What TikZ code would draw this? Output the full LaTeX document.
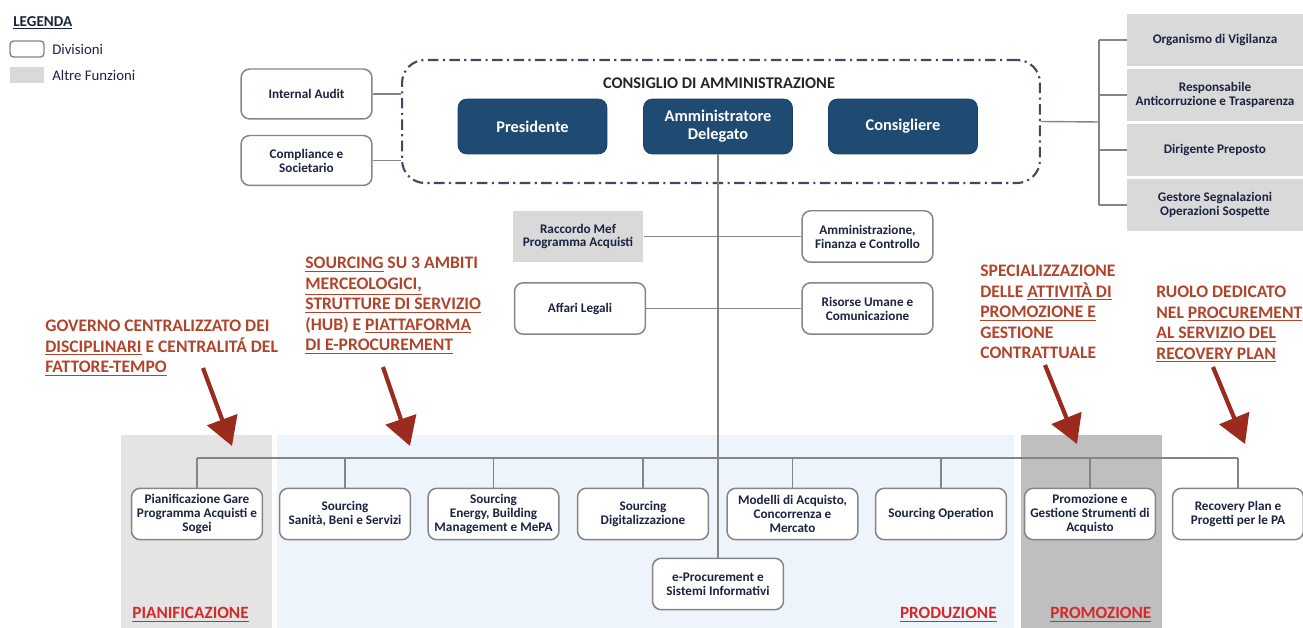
\documentclass[tikz,border=0pt]{standalone}
\usepackage{fontspec}
\setmainfont{Carlito}
\usetikzlibrary{arrows.meta,positioning}

\definecolor{linegray}{HTML}{858585}
\definecolor{boxtext}{HTML}{1C2340}
\definecolor{altregray}{HTML}{D9D9D9}
\definecolor{cdablue}{HTML}{1F4A72}
\definecolor{cdadash}{HTML}{3B4A66}
\definecolor{notared}{HTML}{B0452C}
\definecolor{arrowred}{HTML}{9B2B1E}
\definecolor{areared}{HTML}{D42A2A}
\definecolor{pianbg}{HTML}{E4E4E4}
\definecolor{prodbg}{HTML}{EEF4FB}
\definecolor{promobg}{HTML}{BFBFBF}

\begin{document}
\begin{tikzpicture}[x=0.02cm,y=-0.02cm,
	divbox/.style={draw=linegray,line width=0.85pt,rounded corners=5pt,fill=white,text=boxtext,align=center,
		font=\bfseries\fontsize{7.5}{7.9}\selectfont,minimum width=2.62cm,minimum height=1.03cm,inner sep=1pt},
	altrebox/.style={fill=altregray,text=boxtext,align=center,
		font=\bfseries\fontsize{7.5}{7.9}\selectfont,minimum width=2.62cm,minimum height=1.03cm,inner sep=1pt},
	cdabox/.style={fill=cdablue,draw=cdablue!85!black,rounded corners=5pt,text=white,align=center,
		font=\bfseries\fontsize{9.3}{10.2}\selectfont,minimum width=2.98cm,minimum height=1.1cm},
	nota/.style={anchor=north west,align=left,inner sep=0pt,text=notared,font=\bfseries\fontsize{10}{11.6}\selectfont},
	area/.style={inner sep=0pt,text=areared,font=\bfseries\fontsize{9.8}{10}\selectfont},
	freccia/.style={draw=arrowred,line width=2.4pt,-{Triangle[length=16pt,width=18pt]}},
	link/.style={draw=linegray,line width=0.8pt}
]
	\useasboundingbox (0,0) rectangle (1303,628);

	% fasce in basso
	\fill[pianbg] (121,435) rectangle (272,628);
	\fill[prodbg] (277,435) rectangle (1014,628);
	\fill[promobg] (1021,435) rectangle (1162,628);

	% legenda
	\node[anchor=west,inner sep=0pt,text=boxtext,font=\bfseries\fontsize{8.6}{9}\selectfont] (legenda) at (13,23) {\underline{LEGENDA}};
	\node[draw=linegray,line width=0.8pt,rounded corners=2pt,minimum width=0.68cm,minimum height=0.32cm,inner sep=0pt] (legdiv) at (27,49) {};
	\node[fill=altregray,minimum width=0.68cm,minimum height=0.32cm,inner sep=0pt] (legaltre) at (27,75) {};
	\node[anchor=west,inner sep=0pt,text=boxtext,font=\fontsize{8.4}{9}\selectfont] (legdivt) at (52,49) {Divisioni};
	\node[anchor=west,inner sep=0pt,text=boxtext,font=\fontsize{8.4}{9}\selectfont] (legaltret) at (52,75) {Altre Funzioni};

	% consiglio di amministrazione
	\node[draw=cdadash,line width=1.2pt,rounded corners=13pt,dash pattern=on 6pt off 2.5pt on 1.2pt off 2.5pt,
		minimum width=12.76cm,minimum height=2.46cm] (cda) at (721,121.5) {};
	\node[text=black!85,font=\bfseries\fontsize{9.3}{10}\selectfont] (cdatit) at (719,83) {CONSIGLIO DI AMMINISTRAZIONE};
	\node[cdabox] (pres) at (532.5,126.5) {Presidente};
	\node[cdabox] (ad) at (718,126.5) {Amministratore\\Delegato};
	\node[cdabox] (cons) at (903,126.5) {Consigliere};

	\node[divbox,minimum height=1.0cm] (ia) at (306.5,94) {Internal Audit};
	\node[divbox,minimum height=1.0cm] (comp) at (306.5,160.5) {Compliance e\\Societario};
	\draw[link] (ia.east) -- (ia.east -| cda.west);
	\draw[link] (comp.east) -- (comp.east -| cda.west);

	% altre funzioni a destra
	\node[altrebox,minimum width=3.52cm] (odv) at (1215,40) {Organismo di Vigilanza};
	\node[altrebox,minimum width=3.52cm] (rpct) at (1215,95) {Responsabile\\Anticorruzione e Trasparenza};
	\node[altrebox,minimum width=3.52cm] (dp) at (1215,150) {Dirigente Preposto};
	\node[altrebox,minimum width=3.52cm] (gsos) at (1215,205) {Gestore Segnalazioni\\Operazioni Sospette};
	\coordinate (rj) at (1099,122);
	\draw[link] (cda.east) -- (rj);
	\draw[link] (rj |- odv.west) -- (rj |- gsos.west);
	\foreach \n in {odv,rpct,dp,gsos}
		\draw[link] (rj |- \n.west) -- (\n.west);

	% staff dell'AD
	\node[altrebox] (mef) at (578,236.5) {Raccordo Mef\\Programma Acquisti};
	\node[divbox] (afc) at (867.5,236.5) {Amministrazione,\\Finanza e Controllo};
	\node[divbox] (leg) at (580,308.5) {Affari Legali};
	\node[divbox] (rum) at (867.5,308.5) {Risorse Umane e\\Comunicazione};
	\draw[link] (mef.east) -- (afc.west);
	\draw[link] (leg.east) -- (rum.west);

	% divisioni
	\node[divbox] (p1) at (197,514) {Pianificazione Gare\\Programma Acquisti e\\Sogei};
	\node[divbox] (p2) at (345,514) {Sourcing\\Sanità, Beni e Servizi};
	\node[divbox] (p3) at (493.5,514) {Sourcing\\Energy, Building\\Management e MePA};
	\node[divbox] (p4) at (643,514) {Sourcing\\Digitalizzazione};
	\node[divbox] (p5) at (792.5,514) {Modelli di Acquisto,\\Concorrenza e\\Mercato};
	\node[divbox] (p6) at (941,514) {Sourcing Operation};
	\node[divbox] (p7) at (1090,514) {Promozione e\\Gestione Strumenti di\\Acquisto};
	\node[divbox] (p8) at (1238,514) {Recovery Plan e\\Progetti per le PA};
	\node[divbox] (eproc) at (718,584) {e-Procurement e\\Sistemi Informativi};

	\coordinate (bus) at (718,458);
	\draw[link] (ad.south) -- (eproc.north);
	\draw[link] (p1.north |- bus) -- (p8.north |- bus);
	\foreach \n in {p1,p2,p3,p4,p5,p6,p7,p8}
		\draw[link] (\n.north |- bus) -- (\n.north);

	% nomi delle aree
	\node[area,anchor=west] (pian) at (132,615) {\underline{PIANIFICAZIONE}};
	\node[area,anchor=east] (prod) at (997,615) {\underline{PRODUZIONE}};
	\node[area,anchor=west] (promo) at (1050,615) {\underline{PROMOZIONE}};

	% note e frecce
	\node[nota] (n1) at (45,320) {GOVERNO CENTRALIZZATO DEI\\\underline{DISCIPLINARI} E CENTRALITÁ DEL\\\underline{FATTORE-TEMPO}};
	\node[nota] (n2) at (305,257) {\underline{SOURCING} SU 3 AMBITI\\\underline{MERCEOLOGICI,}\\\underline{STRUTTURE DI SERVIZIO}\\(HUB) E \underline{PIATTAFORMA}\\\underline{DI E-PROCUREMENT}};
	\node[nota] (n3) at (980,265) {SPECIALIZZAZIONE\\DELLE \underline{ATTIVITÀ DI}\\\underline{PROMOZIONE E}\\GESTIONE\\CONTRATTUALE};
	\node[nota] (n4) at (1156,286) {RUOLO DEDICATO\\NEL \underline{PROCUREMENT}\\\underline{AL SERVIZIO DEL}\\\underline{RECOVERY PLAN}};

	\coordinate (f1a) at (203,368);
	\coordinate (f1b) at (232,446);
	\coordinate (f2a) at (383,367);
	\coordinate (f2b) at (410,446);
	\coordinate (f3a) at (1045,365);
	\coordinate (f3b) at (1077,444);
	\coordinate (f4a) at (1213,367);
	\coordinate (f4b) at (1245,444);
	\foreach \a/\b in {f1a/f1b,f2a/f2b,f3a/f3b,f4a/f4b}
		\draw[freccia] (\a) -- (\b);
\end{tikzpicture}
\end{document}
